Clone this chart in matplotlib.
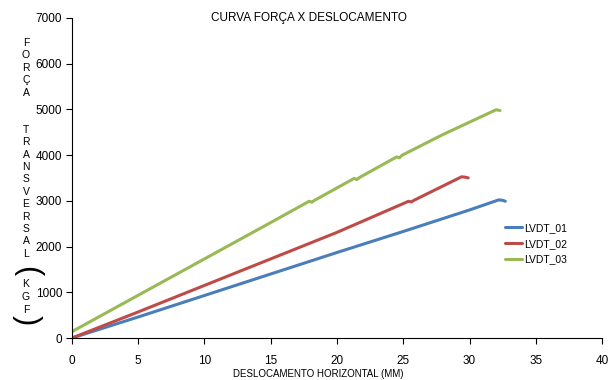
import matplotlib
matplotlib.use("Agg")
import matplotlib.pyplot as plt

plt.rcParams['font.family'] = ['Liberation Sans', 'DejaVu Sans']

# deslocamento (mm) x força (kgf)
lvdt01_x = [0, 5, 10, 15, 20, 25, 30, 32.2, 32.5, 32.7]
lvdt01_y = [0, 460, 930, 1400, 1870, 2330, 2800, 3020, 3010, 2990]

lvdt02_x = [0, 5, 10, 15, 20, 25.4, 25.6, 25.8, 29.4, 29.7, 29.9]
lvdt02_y = [0, 570, 1150, 1730, 2310, 2990, 2975, 3010, 3525, 3515, 3500]

lvdt03_x = [0, 5, 10, 15, 17.9, 18.1, 18.3, 21.3, 21.5, 21.7,
            24.5, 24.7, 24.9, 28, 32, 32.3]
lvdt03_y = [140, 935, 1730, 2525, 2990, 2970, 3010, 3490, 3465, 3510,
            3960, 3940, 3995, 4450, 4990, 4975]

series = [("LVDT_01", lvdt01_x, lvdt01_y, "#4a7ebb"),
          ("LVDT_02", lvdt02_x, lvdt02_y, "#be4b48"),
          ("LVDT_03", lvdt03_x, lvdt03_y, "#98b954")]

fig = plt.figure(figsize=(6.15, 3.8), dpi=100)
ax = fig.add_axes([0.117, 0.1105, 0.862, 0.8425])

for name, xs, ys, c in series:
    ax.plot(xs, ys, color=c, lw=2.2, label=name, solid_capstyle="round")

ax.set_xlim(0, 40)
ax.set_ylim(0, 7000)
ax.set_xticks(range(0, 41, 5))
ax.set_yticks(range(0, 7001, 1000))
ax.spines["top"].set_visible(False)
ax.spines["right"].set_visible(False)
ax.tick_params(direction="out", length=4, labelsize=8.5, pad=3)
ax.tick_params(axis="x", pad=8)

fig.text(309 / 615, 1 - 18 / 380, "CURVA FORÇA X DESLOCAMENTO",
         ha="center", va="center", fontsize=8.5)
fig.text(318 / 615, 1 - 374 / 380, "DESLOCAMENTO HORIZONTAL (MM)",
         ha="center", va="center", fontsize=7)

# rótulo vertical letra por letra
letters = ["F", "O", "R", "Ç", "A", "", "", "T", "R", "A", "N", "S",
           "V", "E", "R", "S", "A", "L"]
y0 = 43
for i, ch in enumerate(letters):
    fig.text(26 / 615, 1 - (y0 + i * 12.4) / 380, ch,
             ha="center", va="center", fontsize=7.5)
for j, ch in enumerate(["K", "G", "F"]):
    fig.text(26 / 615, 1 - (284 + j * 13) / 380, ch,
             ha="center", va="center", fontsize=7.5)
fig.text(27 / 615, 1 - 271 / 380, "(", rotation=-90, ha="center",
         va="center", fontsize=22)
fig.text(27 / 615, 1 - 320 / 380, ")", rotation=-90, ha="center",
         va="center", fontsize=22)

ax.legend(loc="upper left", bbox_to_anchor=(505 / 615, 1 - 223 / 380),
          bbox_transform=fig.transFigure, frameon=False, fontsize=7.5,
          handlelength=1.6, handletextpad=0.2, labelspacing=0.55,
          borderaxespad=0, borderpad=0)

fig.savefig("out.png", dpi=100)
